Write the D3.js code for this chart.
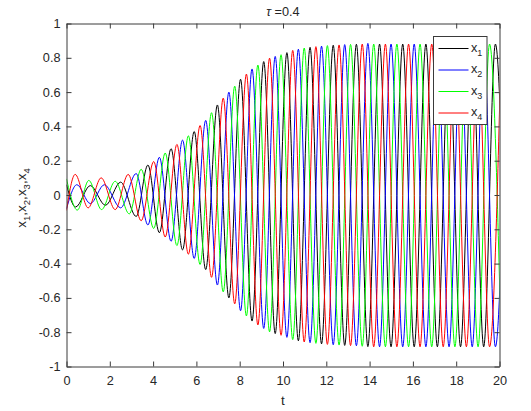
<!DOCTYPE html>
<html><head><meta charset="utf-8">
<script src="https://cdn.jsdelivr.net/npm/d3@7"></script>
<style>body{margin:0;background:#fff} text{font-family:"Liberation Sans",Arial,sans-serif}</style>
</head><body><svg id="c" width="531" height="411"></svg>
<script>
// ---- data (extrema) ----
const xTicks=[0,2,4,6,8,10,12,14,16,18,20];
const yTicks=[-1,-0.8,-0.6,-0.4,-0.2,0,0.2,0.4,0.6,0.8,1];
const seriesNames=["1","2","3","4"];
const seriesColors=["#000000","#0000ff","#00ff00","#ff0000"];
const x1T=[0,0.42,1.1,1.8,2.5,3.22,3.76,4.29,4.83,5.36,5.90,6.43,6.97,7.50,8.04,8.57,9.11,9.64,10.18,10.71,11.25,11.78,12.32,12.85,13.39,13.92,14.46,14.99,15.53,16.06,16.60,17.13,17.67,18.20,18.74,19.27,19.81,20.34];
const x1V=[0.06,-0.07,0.055,-0.06,0.075,-0.125,0.175,-0.22,0.27,-0.32,0.37,-0.435,0.525,-0.60,0.675,-0.735,0.778,-0.808,0.83,-0.85,0.861,-0.868,0.873,-0.877,0.879,-0.884,0.88,-0.885,0.88,-0.885,0.88,-0.885,0.88,-0.885,0.88,-0.885,0.88,-0.885];
const x2T=[0,0.48,1.1,1.75,2.5,3.22,3.76,4.29,4.83,5.36,5.90,6.43,6.97,7.50,8.04,8.57,9.11,9.64,10.18,10.71,11.25,11.78,12.32,12.85,13.39,13.92,14.46,14.99,15.53,16.06,16.60,17.13,17.67,18.20,18.74,19.27,19.81,20.34];
const x2V=[-0.08,0.06,-0.05,0.06,-0.075,0.125,-0.175,0.22,-0.27,0.32,-0.37,0.435,-0.525,0.60,-0.675,0.735,-0.778,0.808,-0.83,0.85,-0.861,0.868,-0.873,0.877,-0.879,0.884,-0.885,0.88,-0.885,0.88,-0.885,0.88,-0.885,0.88,-0.885,0.88,-0.885,0.88];
const x3T=[0,0.5,1.03,1.62,2.25,2.9,3.45,4.03,4.56,5.10,5.63,6.17,6.70,7.24,7.77,8.31,8.84,9.38,9.91,10.45,10.98,11.52,12.05,12.59,13.12,13.66,14.19,14.73,15.26,15.80,16.33,16.87,17.40,17.94,18.47,19.01,19.54,20.08];
const x3V=[0.094,-0.088,0.085,-0.085,0.08,-0.11,0.15,-0.195,0.245,-0.295,0.345,-0.405,0.48,-0.565,0.635,-0.705,0.758,-0.798,0.818,-0.843,0.857,-0.865,0.871,-0.875,0.878,-0.882,0.88,-0.885,0.88,-0.885,0.88,-0.885,0.88,-0.885,0.88,-0.885,0.88,-0.885];
const x4T=[0,0.4,1.0,1.6,2.25,2.85,3.45,4.03,4.56,5.10,5.63,6.17,6.70,7.24,7.77,8.31,8.84,9.38,9.91,10.45,10.98,11.52,12.05,12.59,13.12,13.66,14.19,14.73,15.26,15.80,16.33,16.87,17.40,17.94,18.47,19.01,19.54,20.08];
const x4V=[-0.09,0.12,-0.075,0.1,-0.085,0.12,-0.15,0.195,-0.245,0.295,-0.345,0.405,-0.48,0.565,-0.635,0.705,-0.758,0.798,-0.818,0.843,-0.857,0.865,-0.871,0.875,-0.878,0.88,-0.885,0.88,-0.885,0.88,-0.885,0.88,-0.885,0.88,-0.885,0.88,-0.885,0.88];
const seriesT=[x1T,x2T,x3T,x4T], seriesV=[x1V,x2V,x3V,x4V];

// ---- drawing ----
const svg=d3.select("#c");
const L=66.5,R=499.5,T=23.5,B=366.5;
const x=d3.scaleLinear().domain([0,20]).range([L,R]);
const y=d3.scaleLinear().domain([-1,1]).range([B,T]);
const axisCol="#3a3a3a", txtCol="#262626", fs="12.7px";

svg.append("rect").attr("x",0).attr("y",0).attr("width",531).attr("height",411).attr("fill","#fff");
svg.append("defs").append("clipPath").attr("id","pc").append("rect")
  .attr("x",x(0)).attr("y",y(1)).attr("width",x(20)-x(0)).attr("height",y(-1)-y(1));

const line=d3.line().x(d=>x(d[0])).y(d=>y(d[1])).curve(d3.curveMonotoneX);
const gl=svg.append("g").attr("clip-path","url(#pc)");
seriesT.forEach((ts,i)=>{
  const pts=ts.map((t,j)=>[t,seriesV[i][j]]);
  gl.append("path").attr("d",line(pts)).attr("fill","none")
    .attr("stroke",seriesColors[i]).attr("stroke-width",1);
});

function styleAxis(g){
  g.selectAll(".domain").attr("stroke",axisCol);
  g.selectAll(".tick line").attr("stroke",axisCol);
  g.selectAll(".tick text").attr("fill",txtCol).style("font-size",fs);
}
svg.append("g").attr("transform",`translate(0,${B})`)
  .call(d3.axisBottom(x).tickValues(xTicks).tickSizeInner(-5).tickSizeOuter(0).tickPadding(9).tickFormat(d3.format("d")))
  .call(styleAxis);
svg.append("g").attr("transform",`translate(0,${T})`)
  .call(d3.axisTop(x).tickValues(xTicks).tickSizeInner(-5).tickSizeOuter(0).tickFormat(""))
  .call(styleAxis);
svg.append("g").attr("transform",`translate(${L},0)`)
  .call(d3.axisLeft(y).tickValues(yTicks).tickSizeInner(-5).tickSizeOuter(0).tickPadding(6).tickFormat(d=>d3.format("")(+d.toFixed(1)).replace("−","-")))
  .call(styleAxis);
svg.append("g").attr("transform",`translate(${R},0)`)
  .call(d3.axisRight(y).tickValues(yTicks).tickSizeInner(-5).tickSizeOuter(0).tickFormat(""))
  .call(styleAxis);
svg.selectAll("g").attr("font-family",null);

// title
const tt=svg.append("text").attr("x",(L+R)/2).attr("y",16).attr("text-anchor","middle")
  .attr("fill",txtCol).style("font-size",fs);
tt.append("tspan").attr("font-style","italic").text("τ");
tt.append("tspan").text(" =0.4");

// x label
svg.append("text").attr("x",(L+R)/2).attr("y",405).attr("text-anchor","middle")
  .attr("fill",txtCol).style("font-size","13.5px").text("t");

// y label
const yl=svg.append("text").attr("transform",`translate(26,${(T+B)/2+3}) rotate(-90)`)
  .attr("text-anchor","middle").attr("fill",txtCol).style("font-size","13.5px");
seriesNames.forEach((n,i)=>{
  yl.append("tspan").attr("dy",i===0?0:-4).text(i===0?"x":",x");
  yl.append("tspan").attr("dy",4).style("font-size","9.5px").text(n);
});

// legend
const lg=svg.append("g");
lg.append("rect").attr("x",433.5).attr("y",36.5).attr("width",53.5).attr("height",88)
  .attr("fill","#fff").attr("stroke",axisCol).attr("stroke-width",1);
seriesNames.forEach((n,i)=>{
  const yy=48.5+i*21.5;
  lg.append("line").attr("x1",438.5).attr("x2",468.5).attr("y1",yy).attr("y2",yy)
    .attr("stroke",seriesColors[i]).attr("stroke-width",1);
  const t=lg.append("text").attr("x",471).attr("y",yy+3).attr("fill",txtCol).style("font-size",fs);
  t.append("tspan").text("x");
  t.append("tspan").attr("dy",4).style("font-size","9px").text(n);
});
</script></body></html>
